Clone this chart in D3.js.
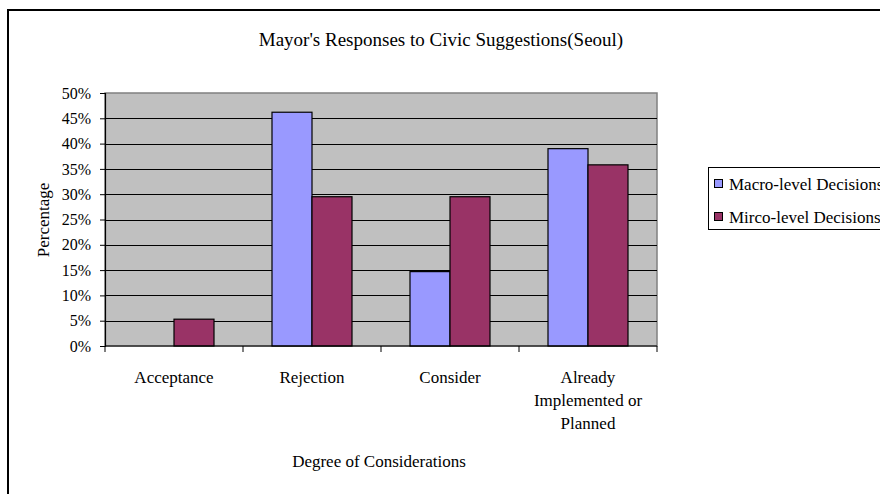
<!DOCTYPE html>
<html>
<head>
<meta charset="utf-8">
<script src="https://cdn.jsdelivr.net/npm/d3@7"></script>
<style>
  html, body { margin: 0; padding: 0; background: #fff; }
  svg { display: block; }
  svg text { font-family: "Liberation Serif", "DejaVu Serif", serif; fill: #000; }
</style>
</head>
<body>
<svg id="chart" width="880" height="494"></svg>
<script>
// Degree of consideration categories and the share of each response type
const categories = ["Acceptance", "Rejection", "Consider", "Already Implemented or Planned"];
const categoryLines = [["Acceptance"], ["Rejection"], ["Consider"], ["Already", "Implemented or", "Planned"]];
const seriesNames = ["Macro-level Decisions", "Mirco-level Decisions"];
const macroValues = [0, 0.462, 0.147, 0.390];
const microValues = [0.053, 0.295, 0.295, 0.358];
const seriesColors = ["#9999FF", "#993366"];
const yTicks = [0, 0.05, 0.10, 0.15, 0.20, 0.25, 0.30, 0.35, 0.40, 0.45, 0.50];

const FONT = "Liberation Serif, DejaVu Serif, serif";
const svg = d3.select("#chart");
const plot = { left: 105, right: 657, top: 93, bottom: 346 };

// Outer chart frame (extends past the right and bottom edges)
svg.append("path")
  .attr("d", "M8,494 V10 H880")
  .attr("fill", "none").attr("stroke", "#000").attr("stroke-width", 2);

const x = d3.scaleBand().domain(categories).range([plot.left, plot.right]).paddingInner(0).paddingOuter(0);
const inner = d3.scaleBand().domain(seriesNames).range([0, x.bandwidth()]).paddingInner(0).paddingOuter(0.725);
const y = d3.scaleLinear().domain([0, 0.5]).range([plot.bottom, plot.top]);

// Plot background
svg.append("rect")
  .attr("x", plot.left).attr("y", plot.top)
  .attr("width", plot.right - plot.left).attr("height", plot.bottom - plot.top)
  .attr("fill", "#C0C0C0").attr("stroke", "#808080").attr("stroke-width", 1.5);

// Horizontal gridlines
svg.append("g").selectAll("line")
  .data(yTicks.filter(d => d > 0 && d < 0.5))
  .join("line")
  .attr("x1", plot.left).attr("x2", plot.right)
  .attr("y1", d => Math.round(y(d)) + 0.5).attr("y2", d => Math.round(y(d)) + 0.5)
  .attr("stroke", "#000").attr("stroke-width", 1);

// Bars
const series = [macroValues, microValues];
const bars = svg.append("g");
categories.forEach((c, i) => {
  series.forEach((vals, s) => {
    const v = vals[i];
    if (v <= 0) return;
    bars.append("rect")
      .attr("x", x(c) + inner(seriesNames[s]))
      .attr("y", y(v))
      .attr("width", inner.bandwidth())
      .attr("height", y(0) - y(v))
      .attr("fill", seriesColors[s])
      .attr("stroke", "#000").attr("stroke-width", 1.2);
  });
});

// Y axis
const yAxis = d3.axisLeft(y).tickValues(yTicks).tickFormat(d3.format(".0%")).tickSize(5).tickPadding(9);
const gy = svg.append("g").attr("transform", `translate(${plot.left},0)`).call(yAxis)
  .attr("font-family", FONT).attr("font-size", 16);
gy.select(".domain").attr("stroke", "#000").attr("stroke-width", 1.2);
gy.selectAll(".tick line").attr("stroke", "#000");
gy.selectAll(".tick text").attr("fill", "#000");

// X axis line with tick marks at category boundaries
const gx = svg.append("g");
gx.append("line").attr("x1", plot.left).attr("x2", plot.right)
  .attr("y1", plot.bottom).attr("y2", plot.bottom).attr("stroke", "#000").attr("stroke-width", 1.2);
const boundaries = categories.map(c => x(c)).concat([x(categories[categories.length - 1]) + x.bandwidth()]);
gx.selectAll("line.tick").data(boundaries).join("line").attr("class", "tick")
  .attr("x1", d => d).attr("x2", d => d)
  .attr("y1", plot.bottom).attr("y2", plot.bottom + 6)
  .attr("stroke", "#000");

// Category labels
categories.forEach((c, i) => {
  const t = svg.append("text")
    .attr("x", x(c) + x.bandwidth() / 2)
    .attr("y", 383)
    .attr("text-anchor", "middle")
    .attr("font-family", FONT).attr("font-size", 17);
  categoryLines[i].forEach((line, k) => {
    t.append("tspan").attr("x", x(c) + x.bandwidth() / 2).attr("dy", k === 0 ? 0 : 23).text(line);
  });
});

// Title and axis titles
svg.append("text").attr("x", 441).attr("y", 46).attr("text-anchor", "middle")
  .attr("font-family", FONT).attr("font-size", 19).text("Mayor's Responses to Civic Suggestions(Seoul)");
svg.append("text").attr("x", 379).attr("y", 467).attr("text-anchor", "middle")
  .attr("font-family", FONT).attr("font-size", 17).text("Degree of Considerations");
svg.append("text").attr("transform", "translate(49,220) rotate(-90)").attr("text-anchor", "middle")
  .attr("font-family", FONT).attr("font-size", 17).text("Percentage");

// Legend
const legend = svg.append("g");
legend.append("rect").attr("x", 708.5).attr("y", 167.5).attr("width", 200).attr("height", 62)
  .attr("fill", "#fff").attr("stroke", "#000").attr("stroke-width", 1);
seriesNames.forEach((name, i) => {
  const cy = 184 + i * 33;
  legend.append("rect").attr("x", 714.5).attr("y", cy - 4.5).attr("width", 8).attr("height", 8)
    .attr("fill", seriesColors[i]).attr("stroke", "#000").attr("stroke-width", 1);
  legend.append("text").attr("x", 729).attr("y", cy + 5.5)
    .attr("font-family", FONT).attr("font-size", 17).text(name);
});
</script>
</body>
</html>
